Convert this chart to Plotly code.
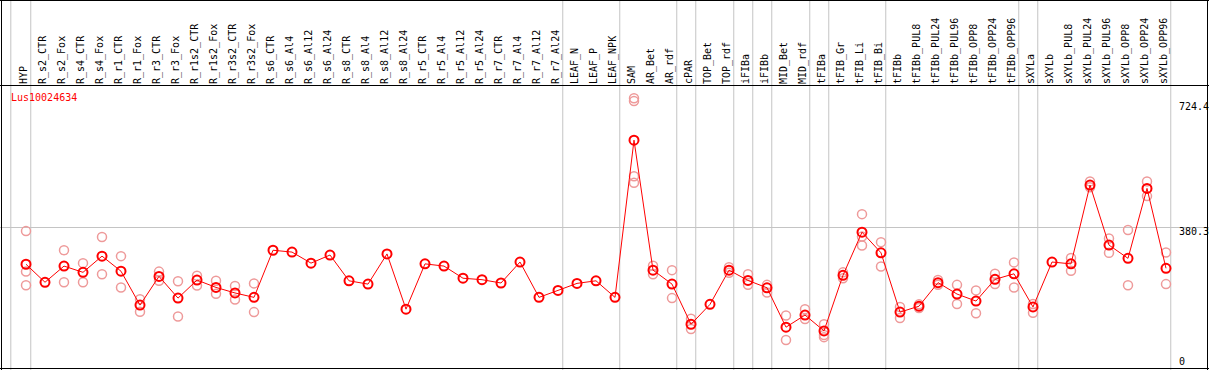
import plotly.graph_objects as go

categories = ["HYP", "R_s2_CTR", "R_s2_Fox", "R_s4_CTR", "R_s4_Fox", "R_r1_CTR", "R_r1_Fox",
              "R_r3_CTR", "R_r3_Fox", "R_r1s2_CTR", "R_r1s2_Fox", "R_r3s2_CTR", "R_r3s2_Fox",
              "R_s6_CTR", "R_s6_Al4", "R_s6_Al12", "R_s6_Al24", "R_s8_CTR", "R_s8_Al4",
              "R_s8_Al12", "R_s8_Al24", "R_r5_CTR", "R_r5_Al4", "R_r5_Al12", "R_r5_Al24",
              "R_r7_CTR", "R_r7_Al4", "R_r7_Al12", "R_r7_Al24", "LEAF_N", "LEAF_P", "LEAF_NPK",
              "SAM", "AR_Bet", "AR_rdf", "cPAR", "TOP_Bet", "TOP_rdf", "iFIBa", "iFIBb",
              "MID_Bet", "MID_rdf", "tFIBa", "tFIB_Gr", "tFIB_Li", "tFIB_Bi", "tFIBb",
              "tFIBb_PUL8", "tFIBb_PUL24", "tFIBb_PUL96", "tFIBb_OPP8", "tFIBb_OPP24",
              "tFIBb_OPP96", "sXYLa", "sXYLb", "sXYLb_PUL8", "sXYLb_PUL24", "sXYLb_PUL96",
              "sXYLb_OPP8", "sXYLb_OPP24", "sXYLb_OPP96"]

mean_values = [281, 232, 276, 259, 303, 262, 170, 248, 189, 238, 218, 203, 191,
               319, 314, 284, 306, 236, 227, 309, 159, 282, 276, 243, 239,
               230, 287, 191, 210, 229, 236, 191,
               618, 265, 227, 118, 172, 265, 237, 217,
               110, 143, 100, 251, 368, 312, 151,
               167, 231, 200, 181, 240, 255,
               165, 287, 282, 496, 333, 297, 487, 270]

replicates = {
    "HYP": [371, 261, 224],
    "R_s2_Fox": [319, 232],
    "R_s4_CTR": [284, 232],
    "R_s4_Fox": [355, 254],
    "R_r1_CTR": [303, 218],
    "R_r1_Fox": [186, 152],
    "R_r3_CTR": [261, 236],
    "R_r3_Fox": [235, 139],
    "R_r1s2_CTR": [250, 223],
    "R_r1s2_Fox": [236, 201],
    "R_r3s2_CTR": [222, 185],
    "R_r3s2_Fox": [229, 151],
    "SAM": [732, 724, 520, 502],
    "AR_Bet": [277, 254],
    "AR_rdf": [265, 189],
    "cPAR": [133, 105],
    "TOP_rdf": [273, 258],
    "iFIBa": [254, 225],
    "iFIBb": [225, 204],
    "MID_Bet": [142, 75],
    "MID_rdf": [159, 132],
    "tFIBa": [118, 89, 83],
    "tFIB_Gr": [243, 259],
    "tFIB_Li": [417, 356, 332],
    "tFIB_Bi": [341, 275],
    "tFIBb": [165, 135],
    "tFIBb_PUL8": [172, 162],
    "tFIBb_PUL24": [238, 225],
    "tFIBb_PUL96": [225, 173],
    "tFIBb_OPP8": [210, 148],
    "tFIBb_OPP24": [255, 227],
    "tFIBb_OPP96": [286, 218],
    "sXYLa": [173, 149],
    "sXYLb_PUL8": [298, 263],
    "sXYLb_PUL24": [506, 490],
    "sXYLb_PUL96": [351, 312],
    "sXYLb_OPP8": [374, 224],
    "sXYLb_OPP24": [506, 466],
    "sXYLb_OPP96": [313, 227],
}

group_boundaries = [-0.8, 0.25, 28.25, 31.25, 34.25, 35.25, 37.25, 38.25, 39.25,
                    41.25, 42.25, 45.25, 52.25, 53.25, 60.25]

gene_name = "Lus10024634"
y_labels = [724.4, 380.3, 0]
y_label_shift = [-5.7, -4.3, 6]

FONT = "DejaVu Sans Mono"
W, H = 1209, 370
TOP = 85

rep_x, rep_y = [], []
for cat, vals in replicates.items():
    for v in vals:
        rep_x.append(cat)
        rep_y.append(v)

fig = go.Figure()
fig.add_trace(go.Scatter(
    x=rep_x, y=rep_y, mode="markers",
    marker=dict(symbol="circle-open", size=9, color="#ee9a9a", line=dict(width=1.5)),
    hoverinfo="skip", showlegend=False))
fig.add_trace(go.Scatter(
    x=categories, y=mean_values, mode="lines+markers",
    line=dict(color="#ff0000", width=1),
    marker=dict(symbol="circle-open", size=9, color="#ff0000", line=dict(width=2)),
    showlegend=False))

shapes = []
ptop = (H - 0) / (H - TOP)
for b in group_boundaries:
    shapes.append(dict(type="line", xref="x", yref="paper", x0=b, x1=b, y0=0, y1=ptop,
                       line=dict(color="#c4c4c4", width=1), layer="below"))
# frame lines
black = dict(color="black", width=1)
shapes += [
    dict(type="line", xref="paper", yref="paper", x0=0, x1=1, y0=ptop - 0.5 / (H - TOP), y1=ptop - 0.5 / (H - TOP), line=black),
    dict(type="line", xref="paper", yref="paper", x0=0, x1=1, y0=1 - 0.5 / (H - TOP), y1=1 - 0.5 / (H - TOP), line=black),
    dict(type="line", xref="paper", yref="paper", x0=0, x1=1, y0=1.5 / (H - TOP), y1=1.5 / (H - TOP), line=black),
    dict(type="line", xref="paper", yref="paper", x0=1.5 / W, x1=1.5 / W, y0=0, y1=ptop, line=black),
    dict(type="line", xref="paper", yref="paper", x0=1 - 1.5 / W, x1=1 - 1.5 / W, y0=0, y1=ptop, line=black),
]

annotations = [dict(text=gene_name, xref="paper", yref="paper", x=9 / W, y=(H - 97) / (H - TOP),
                    xanchor="left", yanchor="middle", showarrow=False,
                    font=dict(family=FONT, size=10, color="#ff0000"))]
for v, s in zip(y_labels, y_label_shift):
    annotations.append(dict(text=str(v) if v else "0", xref="paper", yref="y", x=1177 / W, y=v,
                            xanchor="left", yanchor="middle", yshift=s, showarrow=False,
                            font=dict(family=FONT, size=10, color="black")))

x0 = -26 / 19
x1 = (W - 26) / 19
fig.update_layout(
    width=W, height=H, margin=dict(l=0, r=0, t=TOP, b=0, pad=0),
    paper_bgcolor="white", plot_bgcolor="white",
    shapes=shapes, annotations=annotations,
    xaxis=dict(type="category", categoryorder="array", categoryarray=categories,
               range=[x0, x1], side="top", tickangle=-90, ticks="", showgrid=False,
               showline=False, zeroline=False, automargin=False, ticklabelstandoff=0,
               ticklabelshift=-2,
               tickfont=dict(family=FONT, size=10, color="black")),
    yaxis=dict(range=[(367.7 - H) / 0.3682, (367.7 - TOP) / 0.3682], tickvals=[380.3],
               showticklabels=False, showgrid=True, gridcolor="#c4c4c4", gridwidth=1,
               zeroline=False, showline=False, automargin=False),
)

fig.write_html("out.html", config={"displayModeBar": False},
               post_script="document.body.style.margin='0';document.body.style.overflow='hidden';")
